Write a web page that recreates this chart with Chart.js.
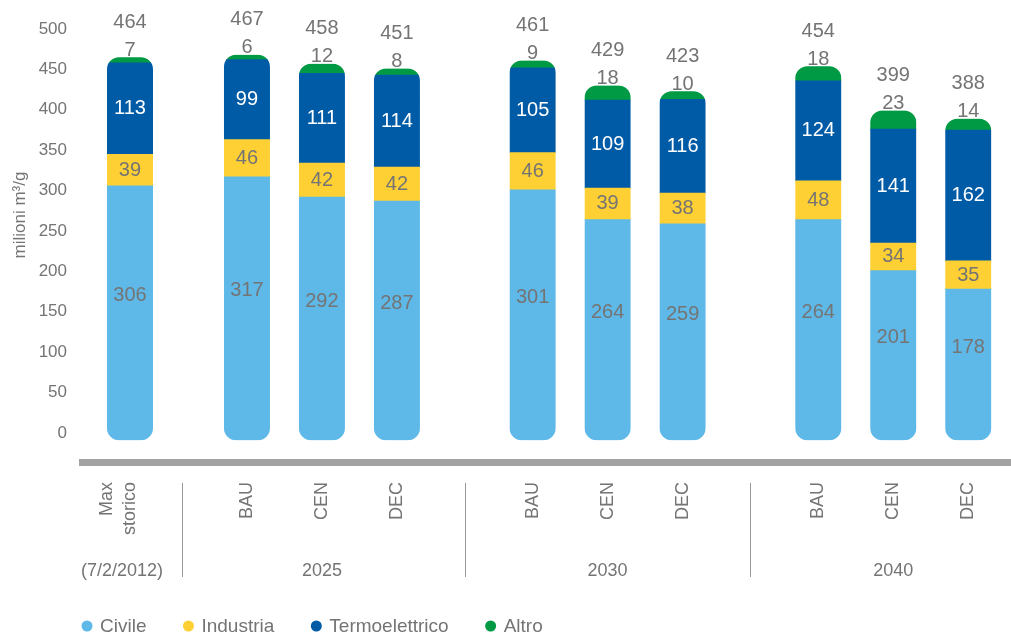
<!DOCTYPE html>
<html>
<head>
<meta charset="utf-8">
<script src="https://cdn.jsdelivr.net/npm/chart.js@4"></script>
<style>
  html, body { margin: 0; padding: 0; background: #fff; }
  #wrap { width: 1011px; height: 639px; }
</style>
</head>
<body>
<div id="wrap"><canvas id="chart"></canvas></div>
<script>
const scenarios = [['Max', 'storico'], 'BAU', 'CEN', 'DEC', 'BAU', 'CEN', 'DEC', 'BAU', 'CEN', 'DEC']
const groupOf = [0, 1, 1, 1, 2, 2, 2, 3, 3, 3]
const groupLabels = ['(7/2/2012)', '2025', '2030', '2040']

const civile = [306, 317, 292, 287, 301, 264, 259, 264, 201, 178]
const industria = [39, 46, 42, 42, 46, 39, 38, 48, 34, 35]
const termoelettrico = [113, 99, 111, 114, 105, 109, 116, 124, 141, 162]
const altro = [7, 6, 12, 8, 9, 18, 10, 18, 23, 14]
const totals = [464, 467, 458, 451, 461, 429, 423, 454, 399, 388]

const seriesNames = ['Civile', 'Industria', 'Termoelettrico', 'Altro']
const seriesColors = ['#5eb9e8', '#fed033', '#005ba6', '#009a44']
const series = [civile, industria, termoelettrico, altro]

const gray = '#747474'
const fontFamily = "'Liberation Sans', Arial, sans-serif"

// bars sit one unit apart inside a group, groups get an extra gap
const firstGap = 0.56
const groupGap = 0.81
const xPos = groupOf.map((g, i) => i + (g > 0 ? firstGap : 0) + (g > 1 ? (g - 1) * groupGap : 0))

const columnClip = {
  id: 'columnClip',
  beforeDatasetsDraw(chart) {
    const ctx = chart.ctx
    const bottoms = chart.getDatasetMeta(0).data
    const tops = chart.getDatasetMeta(series.length - 1).data
    ctx.save()
    ctx.beginPath()
    bottoms.forEach((bar, i) => {
      const top = tops[i].y
      ctx.roundRect(bar.x - bar.width / 2, top, bar.width, bar.base - top, 12)
    })
    ctx.clip()
  },
  afterDatasetsDraw(chart) {
    chart.ctx.restore()
  }
}

const valueLabels = {
  id: 'valueLabels',
  afterDatasetsDraw(chart) {
    const ctx = chart.ctx
    const zero = chart.scales.y.getPixelForValue(0)
    ctx.save()
    ctx.font = `20px ${fontFamily}`
    ctx.textAlign = 'center'
    ctx.textBaseline = 'middle'
    series.forEach((vals, k) => {
      chart.getDatasetMeta(k).data.forEach((bar, i) => {
        let y
        if (k === 0) y = (bar.y + zero) / 2 - 14
        else if (k < 3) y = (bar.y + bar.base) / 2
        else y = bar.y - 7
        ctx.fillStyle = k === 2 ? '#ffffff' : gray
        ctx.fillText(String(vals[i]), bar.x, y)
        if (k === 3) {
          ctx.fillStyle = gray
          ctx.fillText(String(totals[i]), bar.x, bar.y - 35)
        }
      })
    })
    ctx.restore()
  }
}

const axisLabels = {
  id: 'axisLabels',
  afterDraw(chart) {
    const ctx = chart.ctx
    const xs = chart.scales.x
    const px = xPos.map(v => xs.getPixelForValue(v))
    ctx.save()
    ctx.fillStyle = gray
    ctx.font = `18px ${fontFamily}`

    // rotated scenario labels
    scenarios.forEach((s, i) => {
      const lines = Array.isArray(s) ? s : [s]
      ctx.save()
      ctx.translate(px[i], 482)
      ctx.rotate(-Math.PI / 2)
      ctx.textAlign = 'right'
      ctx.textBaseline = 'middle'
      lines.forEach((line, j) => {
        ctx.fillText(line, 0, (j - (lines.length - 1)) * 23)
      })
      ctx.restore()
    })

    // group separators and labels
    ctx.strokeStyle = '#9a9a9a'
    ctx.lineWidth = 1
    ctx.textAlign = 'center'
    ctx.textBaseline = 'middle'
    groupLabels.forEach((label, g) => {
      const idx = groupOf.map((gg, i) => gg === g ? i : -1).filter(i => i >= 0)
      const cx = idx.reduce((a, i) => a + px[i], 0) / idx.length
      ctx.fillText(label, g === 0 ? cx - 8 : cx, 571)
      if (g > 0) {
        const mid = (px[idx[0]] + px[idx[0] - 1]) / 2
        const sx = Math.round(g === 1 ? mid - 6 : mid) + 0.5
        ctx.beginPath()
        ctx.moveTo(sx, 483)
        ctx.lineTo(sx, 577)
        ctx.stroke()
      }
    })

    // y title
    ctx.save()
    ctx.translate(20, 215)
    ctx.rotate(-Math.PI / 2)
    ctx.font = `17px ${fontFamily}`
    ctx.fillText('milioni m\u00b3/g', 0, 0)
    ctx.restore()

    // legend
    ctx.font = `19px ${fontFamily}`
    ctx.textAlign = 'left'
    let x = 87
    seriesNames.forEach((name, k) => {
      ctx.fillStyle = seriesColors[k]
      ctx.beginPath()
      ctx.arc(x, 626, 5.5, 0, Math.PI * 2)
      ctx.fill()
      ctx.fillStyle = gray
      ctx.fillText(name, x + 13, 627)
      x += 13 + ctx.measureText(name).width + 42
    })
    ctx.restore()
  }
}

new Chart(document.getElementById('chart'), {
  type: 'bar',
  data: {
    datasets: series.map((vals, k) => ({
      label: seriesNames[k],
      data: vals.map((v, i) => ({ x: xPos[i], y: v })),
      backgroundColor: seriesColors[k],
      borderWidth: 0,
      barThickness: 46,
      clip: false,
      ...(k === 0 ? { base: -9 } : {})
    }))
  },
  options: {
    responsive: true,
    maintainAspectRatio: false,
    animation: false,
    layout: { padding: { top: 29, left: 0, right: 0, bottom: 0 } },
    plugins: {
      legend: { display: false },
      tooltip: { enabled: false }
    },
    scales: {
      x: {
        type: 'linear',
        offset: false,
        min: -0.64,
        max: 11.75,
        stacked: true,
        grid: { display: false, drawTicks: false, offset: false },
        ticks: { display: false },
        border: { color: '#a2a2a2', width: 7 },
        afterFit: s => { s.height = 176.5 }
      },
      y: {
        stacked: true,
        min: -36.5,
        max: 500,
        grid: { display: false, drawTicks: false },
        border: { display: false },
        ticks: { stepSize: 50, padding: 15, color: gray, font: { size: 17, family: fontFamily } },
        afterBuildTicks: s => { s.ticks = s.ticks.filter(t => t.value >= 0) },
        afterFit: s => { s.width = 82 }
      }
    }
  },
  plugins: [columnClip, valueLabels, axisLabels]
})
</script>
</body>
</html>
